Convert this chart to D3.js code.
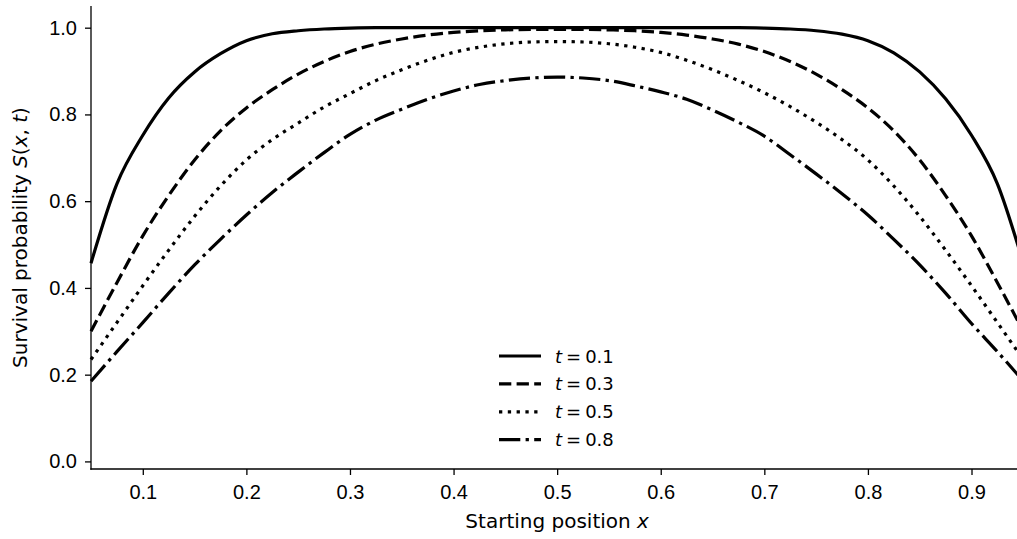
<!DOCTYPE html>
<html>
<head>
<meta charset="utf-8">
<script src="https://cdn.jsdelivr.net/npm/d3@7"></script>
<style>
    body { margin: 0; background: #fff; }
    svg { display: block; font-family: "DejaVu Sans", sans-serif; }
    .tick text { font-size: 20px; fill: #000; }
</style>
</head>
<body>
<svg width="1017" height="539"></svg>
<script>
// starting positions
var xs = [0.05, 0.075, 0.1, 0.125, 0.15, 0.175, 0.2, 0.225, 0.25, 0.275, 0.3, 0.325,
          0.35, 0.375, 0.4, 0.425, 0.45, 0.475, 0.5, 0.525, 0.55, 0.575, 0.6, 0.625,
          0.65, 0.675, 0.7, 0.725, 0.75, 0.775, 0.8, 0.825, 0.85, 0.875, 0.9, 0.925, 0.95];

// survival probability
var s01 = [0.457, 0.640, 0.752, 0.838, 0.898, 0.940, 0.970, 0.986, 0.993, 0.997, 0.999, 1.000,
           1.000, 1.000, 1.000, 1.000, 1.000, 1.000, 1.000, 1.000, 1.000, 1.000, 1.000, 1.000,
           1.000, 1.000, 0.999, 0.997, 0.993, 0.985, 0.970, 0.942, 0.898, 0.836, 0.752, 0.640, 0.457];
var s03 = [0.300, 0.412, 0.520, 0.613, 0.695, 0.762, 0.815, 0.857, 0.893, 0.922, 0.945, 0.962,
           0.974, 0.983, 0.989, 0.993, 0.995, 0.996, 0.996, 0.996, 0.995, 0.993, 0.989, 0.983,
           0.974, 0.962, 0.945, 0.922, 0.893, 0.857, 0.815, 0.762, 0.695, 0.613, 0.520, 0.412, 0.300];
var s05 = [0.235, 0.320, 0.405, 0.487, 0.565, 0.635, 0.695, 0.742, 0.780, 0.817, 0.848, 0.878,
           0.903, 0.925, 0.943, 0.955, 0.963, 0.967, 0.968, 0.967, 0.963, 0.955, 0.943, 0.925,
           0.903, 0.878, 0.850, 0.818, 0.782, 0.742, 0.695, 0.635, 0.565, 0.487, 0.405, 0.320, 0.235];
var s08 = [0.185, 0.253, 0.320, 0.388, 0.453, 0.512, 0.568, 0.620, 0.667, 0.712, 0.754, 0.787,
           0.812, 0.835, 0.854, 0.869, 0.878, 0.884, 0.886, 0.884, 0.878, 0.866, 0.852, 0.835,
           0.810, 0.782, 0.750, 0.707, 0.663, 0.617, 0.568, 0.512, 0.453, 0.388, 0.318, 0.253, 0.185];

var labels = ["0.1", "0.3", "0.5", "0.8"];
var dashes = [null, "12.3,5.3", "3.3,5.5", "21.3,5.3,3.3,5.3"];
var xTicks = [0.1, 0.2, 0.3, 0.4, 0.5, 0.6, 0.7, 0.8, 0.9];
var yTicks = [0.0, 0.2, 0.4, 0.6, 0.8, 1.0];

var svg = d3.select("svg");
var mLeft = 91, mRight = 1023.3, mTop = 6, mBottom = 469;

var x = d3.scaleLinear().domain([0.05, 0.95]).range([mLeft, mRight]);
var y = d3.scaleLinear().domain([-0.0175, 1.05]).range([mBottom, mTop]);

var series = [s01, s03, s05, s08];

var line = d3.line()
    .curve(d3.curveMonotoneX)
    .x(function(d, i) { return x(xs[i]); })
    .y(function(d) { return y(d); });

series.forEach(function(s, k) {
    svg.append("path")
        .datum(s)
        .attr("d", line)
        .attr("fill", "none")
        .attr("stroke", "#000")
        .attr("stroke-width", 3.2)
        .attr("stroke-linecap", "butt")
        .attr("stroke-linejoin", "round")
        .attr("stroke-dasharray", dashes[k]);
});

// axes
var gx = svg.append("g")
    .attr("transform", "translate(0," + mBottom + ")")
    .call(d3.axisBottom(x).tickValues(xTicks).tickSize(6).tickPadding(10).tickFormat(d3.format(".1f")));
var gy = svg.append("g")
    .attr("transform", "translate(" + mLeft + ",0)")
    .call(d3.axisLeft(y).tickValues(yTicks).tickSize(6).tickPadding(8).tickFormat(d3.format(".1f")));

[gx, gy].forEach(function(g) {
    g.select(".domain").remove();
    g.selectAll(".tick line").attr("stroke", "#000").attr("stroke-width", 1.3);
    g.selectAll(".tick text").attr("font-family", null).attr("font-size", null);
});
gx.selectAll(".tick text").attr("dy", "0.71em");

// spines (left and bottom only)
svg.append("line").attr("x1", mLeft).attr("x2", mLeft).attr("y1", mTop).attr("y2", mBottom + 0.65)
    .attr("stroke", "#000").attr("stroke-width", 1.3);
svg.append("line").attr("x1", mLeft - 0.65).attr("x2", mRight).attr("y1", mBottom).attr("y2", mBottom)
    .attr("stroke", "#000").attr("stroke-width", 1.3);

// axis labels
var xl = svg.append("text")
    .attr("x", (mLeft + mRight) / 2).attr("y", 528)
    .attr("text-anchor", "middle").attr("font-size", 20);
xl.append("tspan").text("Starting position ");
xl.append("tspan").attr("font-style", "italic").text("x");

var yl = svg.append("text")
    .attr("transform", "translate(27," + (mTop + mBottom) / 2 + ") rotate(-90)")
    .attr("text-anchor", "middle").attr("font-size", 20);
yl.append("tspan").text("Survival probability ");
yl.append("tspan").attr("font-style", "italic").text("S");
yl.append("tspan").text("(");
yl.append("tspan").attr("font-style", "italic").text("x");
yl.append("tspan").text(", ");
yl.append("tspan").attr("font-style", "italic").text("t");
yl.append("tspan").text(")");

// legend
var legend = svg.append("g").attr("transform", "translate(499,356)");
labels.forEach(function(lab, k) {
    var row = legend.append("g").attr("transform", "translate(0," + (k * 27.9) + ")");
    row.append("line")
        .attr("x1", 0).attr("x2", 42).attr("y1", 0).attr("y2", 0)
        .attr("stroke", "#000").attr("stroke-width", 3.2)
        .attr("stroke-dasharray", dashes[k]);
    var t = row.append("text").attr("x", 56).attr("y", 6.5).attr("font-size", 18);
    t.append("tspan").attr("font-style", "italic").text("t");
    t.append("tspan").attr("dx", 4).text("=");
    t.append("tspan").attr("dx", 4).text(lab);
});
</script>
</body>
</html>
